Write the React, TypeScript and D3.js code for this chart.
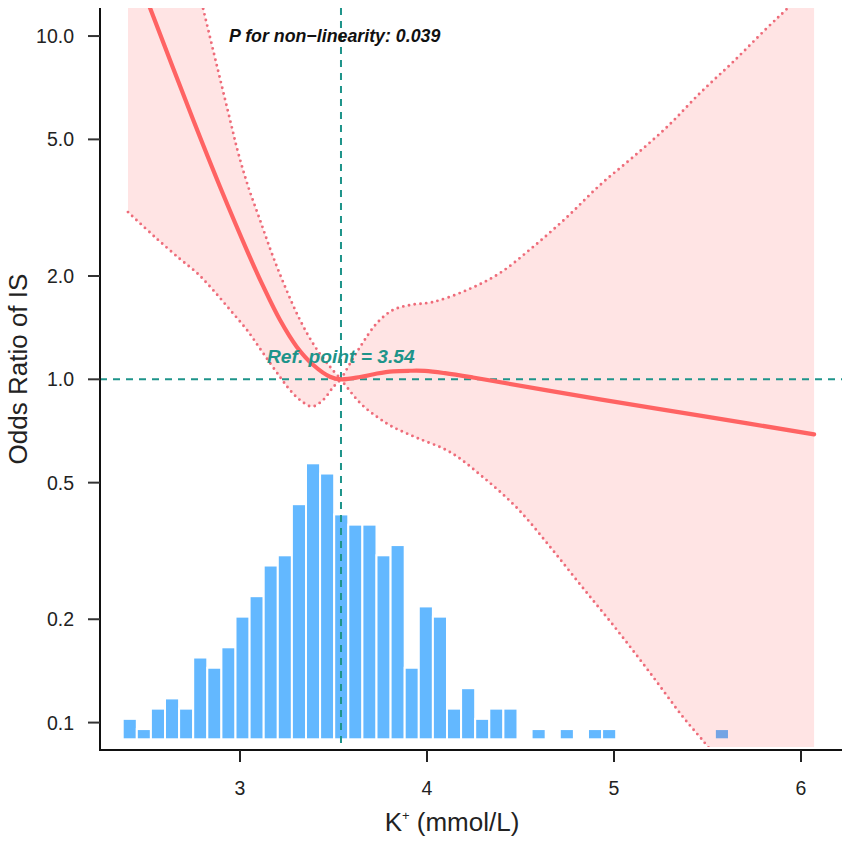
import React from "react";
import * as d3 from "d3";

// ---- data ----
const xTicks = [3, 4, 5, 6];
const yTicks = [0.1, 0.2, 0.5, 1.0, 2.0, 5.0, 10.0];
const yTickLabels = ["0.1", "0.2", "0.5", "1.0", "2.0", "5.0", "10.0"];

const refPoint = 3.54;
const refOR = 1.0;

const curveK = [2.401, 2.519, 2.75, 2.893, 3.044, 3.125, 3.214, 3.303, 3.392, 3.481, 3.54, 3.642, 3.733, 3.818, 3.909, 3.989, 4.096, 4.246, 4.925, 5.46, 6.07];
const curveOR = [17.71, 12.07, 5.69, 3.639, 2.328, 1.861, 1.488, 1.245, 1.1006, 1.0176, 1.0, 1.0155, 1.0397, 1.055, 1.059, 1.058, 1.042, 1.012, 0.874, 0.784, 0.6915];

const upperLeftK = [2.401, 2.6, 2.802, 2.947, 2.991, 3.044, 3.107, 3.17, 3.241, 3.321, 3.401, 3.481, 3.54];
const upperLeftOR = [100, 35, 12.07, 5.69, 4.553, 3.639, 2.911, 2.328, 1.861, 1.488, 1.245, 1.088, 1.0];

const lowerLeftK = [2.401, 2.545, 2.679, 2.77, 2.856, 2.947, 3.037, 3.123, 3.214, 3.267, 3.321, 3.385, 3.444, 3.497, 3.54];
const lowerLeftOR = [3.07, 2.597, 2.241, 2.04, 1.82, 1.592, 1.392, 1.193, 1.0155, 0.9307, 0.87, 0.833, 0.87, 0.9465, 1.0];

const upperRightK = [3.54, 3.642, 3.733, 3.818, 3.909, 4.032, 4.214, 4.39, 4.567, 4.749, 4.925, 5.102, 5.283, 5.46, 5.636, 5.818, 5.93, 6.07];
const upperRightOR = [1.0, 1.242, 1.459, 1.592, 1.646, 1.68, 1.82, 2.04, 2.43, 2.97, 3.68, 4.44, 5.43, 6.82, 8.4, 10.55, 12.07, 14.37];

const lowerRightK = [3.54, 3.642, 3.733, 3.818, 3.947, 4.123, 4.299, 4.481, 4.658, 4.834, 5.016, 5.193, 5.369, 5.503, 5.781, 6.07];
const lowerRightOR = [1.0, 0.853, 0.777, 0.726, 0.675, 0.614, 0.519, 0.422, 0.325, 0.2466, 0.1861, 0.1395, 0.1038, 0.0849, 0.0538, 0.0336];

const histStart = 2.3727;
const histBinWidth = 0.0754;
const histCounts = [2, 1, 3, 4, 3, 8, 7, 9, 12, 14, 17, 18, 23, 27, 26, 22, 21, 21, 18, 19, 7, 13, 12, 3, 5, 2, 3, 3, 0, 1, 0, 1, 0, 1, 1, 0, 0, 0, 0, 0, 0, 0, 1];

const pText = "P for non\u2212linearity: 0.039";
const refText = "Ref. point = 3.54";

// ---- layout ----
const W = 851;
const H = 844;
const left = 100;
const right = 842;
const top = 8;
const bottom = 750;
const clipBottom = 747;
const histBase = 739.3;
const histTop = 463.3;

const FONT = "'Liberation Sans', Arial, Helvetica, sans-serif";
const TEAL = "#1E948A";
const RED = "#FF6363";
const DOT = "#EE6C7A";
const BLUE = "#63B8FF";

export default function App() {
  const x = d3.scaleLinear().domain([2.2513, 6.2193]).range([left, right]);
  const y = d3.scaleLog().domain([0.0832, 12.07]).range([bottom, top]);
  const yCount = d3.scaleLinear().domain([0, d3.max(histCounts) as number]).range([histBase, histTop]);

  const line = d3
    .line<[number, number]>()
    .x((d) => x(d[0]))
    .y((d) => y(d[1]))
    .curve(d3.curveCatmullRom.alpha(0.5));

  const zip = (a: number[], b: number[]) => a.map((v, i) => [v, b[i]] as [number, number]);

  const curvePts = zip(curveK, curveOR);
  const ul = zip(upperLeftK, upperLeftOR);
  const ur = zip(upperRightK, upperRightOR);
  const ll = zip(lowerLeftK, lowerLeftOR);
  const lr = zip(lowerRightK, lowerRightOR);

  const ulPath = line(ul) as string;
  const urPath = line(ur) as string;
  const llPath = line(ll) as string;
  const lrPath = line(lr) as string;
  const lrRev = line([...lr].reverse()) as string;
  const llRev = line([...ll].reverse()) as string;
  const bandPath =
    ulPath + "L" + urPath.slice(1) + "L" + lrRev.slice(1) + "L" + llRev.slice(1) + "Z";

  return (
    <svg
      width={W}
      height={H}
      style={{ position: "absolute", left: 0, top: 0, background: "#fff" }}
      fontFamily={FONT}
    >
      <defs>
        <clipPath id="plotClip">
          <rect x={left} y={top} width={right - left} height={clipBottom - top} />
        </clipPath>
      </defs>

      {/* histogram */}
      <g>
        {histCounts.map((c, i) =>
          c > 0 ? (
            <rect
              key={i}
              x={x(histStart + i * histBinWidth)}
              y={yCount(c)}
              width={x(histStart + (i + 1) * histBinWidth) - x(histStart + i * histBinWidth)}
              height={histBase - yCount(c)}
              fill={BLUE}
              stroke="#fff"
              strokeWidth={2}
            />
          ) : null
        )}
      </g>

      <g clipPath="url(#plotClip)">
        {/* confidence band */}
        <path d={bandPath} fill="rgb(255,0,0)" fillOpacity={0.105} stroke="none" />
        {[ulPath, urPath, llPath, lrPath].map((p, i) => (
          <path
            key={i}
            d={p}
            fill="none"
            stroke={DOT}
            strokeWidth={2.9}
            strokeLinecap="round"
            strokeDasharray="0 5.8"
          />
        ))}
      </g>

      {/* reference lines */}
      <line
        x1={left}
        x2={right}
        y1={y(refOR)}
        y2={y(refOR)}
        stroke={TEAL}
        strokeWidth={2}
        strokeDasharray="7 6"
      />
      <line
        x1={x(refPoint)}
        x2={x(refPoint)}
        y1={top}
        y2={bottom}
        stroke={TEAL}
        strokeWidth={2}
        strokeDasharray="7 6"
      />

      {/* OR curve */}
      <g clipPath="url(#plotClip)">
        <path d={line(curvePts) as string} fill="none" stroke={RED} strokeWidth={4.2} strokeLinecap="round" />
      </g>

      {/* axes */}
      <path d={`M${left},${top}V${bottom}H${right}`} fill="none" stroke="#111" strokeWidth={2} />
      {yTicks.map((t, i) => (
        <g key={t} transform={`translate(0,${y(t)})`}>
          <line x1={left - 12} x2={left} stroke="#333" strokeWidth={2} />
          <text x={left - 26} dy="0.36em" textAnchor="end" fontSize={19.5} fill="#222">
            {yTickLabels[i]}
          </text>
        </g>
      ))}
      {xTicks.map((t) => (
        <g key={t} transform={`translate(${x(t)},0)`}>
          <line y1={bottom} y2={bottom + 12} stroke="#222" strokeWidth={2} />
          <text y={795} textAnchor="middle" fontSize={19.5} fill="#222">
            {t}
          </text>
        </g>
      ))}

      {/* axis titles */}
      <text
        transform="translate(27,369) rotate(-90)"
        textAnchor="middle"
        fontSize={26}
        fill="#222"
      >
        Odds Ratio of IS
      </text>
      <text x={452} y={831} textAnchor="middle" fontSize={26} fill="#222">
        <tspan>K</tspan>
        <tspan fontSize={13} dy={-11}>+</tspan>
        <tspan dy={11}> (mmol/L)</tspan>
      </text>

      {/* annotations */}
      <text x={229} y={42} fontSize={17.8} fontWeight="bold" fontStyle="italic" fill="#111">
        {pText}
      </text>
      <text x={267} y={363} fontSize={19.2} fontWeight="bold" fontStyle="italic" fill={TEAL}>
        {refText}
      </text>
    </svg>
  );
}
